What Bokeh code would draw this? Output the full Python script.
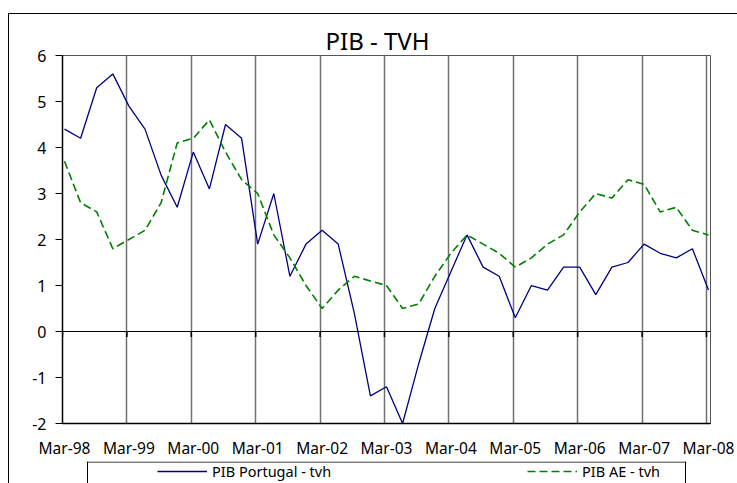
from bokeh.plotting import figure
from bokeh.layouts import column
from bokeh.models import Range1d, FixedTicker, Span, Legend, LegendItem
from bokeh.embed import file_html
from bokeh.resources import INLINE

# quarterly observations, Mar-98 .. Mar-08 (41 quarters)
pib_portugal = [4.4, 4.2, 5.3, 5.6, 4.9, 4.4, 3.4, 2.7, 3.9, 3.1, 4.5, 4.2, 1.9, 3.0, 1.2,
                1.9, 2.2, 1.9, 0.4, -1.4, -1.2, -2.0, -0.7, 0.5, 1.3, 2.1, 1.4, 1.2, 0.3,
                1.0, 0.9, 1.4, 1.4, 0.8, 1.4, 1.5, 1.9, 1.7, 1.6, 1.8, 0.9]
pib_ae = [3.7, 2.8, 2.6, 1.8, 2.0, 2.2, 2.8, 4.1, 4.2, 4.6, 3.9, 3.3, 3.0, 2.1, 1.6,
          1.0, 0.5, 0.9, 1.2, 1.1, 1.0, 0.5, 0.6, 1.2, 1.7, 2.1, 1.9, 1.7, 1.4,
          1.6, 1.9, 2.1, 2.6, 3.0, 2.9, 3.3, 3.2, 2.6, 2.7, 2.2, 2.1]
quarter_index = list(range(len(pib_portugal)))
tick_labels = ["Mar-98", "Mar-99", "Mar-00", "Mar-01", "Mar-02", "Mar-03",
               "Mar-04", "Mar-05", "Mar-06", "Mar-07", "Mar-08"]
y_ticks = [-2, -1, 0, 1, 2, 3, 4, 5, 6]
series_names = ["PIB Portugal - tvh", "PIB AE - tvh"]

FONT = "Noto Sans"
BLUE = "#000080"
GREEN = "#008000"
DASH = "8 4"

# ---------------- main chart ----------------
p = figure(width=728, height=447, output_backend="svg", toolbar_location=None,
           x_range=Range1d(-0.125, 40.125), y_range=Range1d(-2, 6),
           title="PIB - TVH")
p.frame_align = False
p.min_border = 0
p.min_border_left = 53
p.min_border_right = 27
p.min_border_top = 41
p.min_border_bottom = 38

p.background_fill_color = "white"
p.border_fill_color = "white"
p.outline_line_color = "#555555"
p.outline_line_width = 1

p.title.text_font = FONT
p.title.text_font_size = "24px"
p.title.text_font_style = "normal"
p.title.text_color = "black"
p.title.align = "left"
p.title.offset = 263
p.title.standoff = -2

tick_pos = [4 * k for k in range(len(tick_labels))]
p.xaxis.ticker = FixedTicker(ticks=tick_pos)
p.xaxis.major_label_overrides = {t: lab for t, lab in zip(tick_pos, tick_labels)}
p.xaxis.major_tick_out = 0
p.xaxis.major_tick_in = 0
p.xaxis.minor_tick_line_color = None
p.xaxis.major_label_standoff = 13
p.xaxis.major_label_text_font = FONT
p.xaxis.major_label_text_font_size = "15.5px"
p.xaxis.major_label_text_color = "black"
p.xaxis.axis_line_color = "black"
p.xaxis.axis_line_width = 1.5

p.yaxis.ticker = FixedTicker(ticks=y_ticks)
p.yaxis.major_label_overrides = {t: str(t) for t in y_ticks}
p.yaxis.major_tick_out = 7
p.yaxis.major_tick_in = 0
p.yaxis.major_tick_line_color = "black"
p.yaxis.minor_tick_line_color = None
p.yaxis.major_label_standoff = 9
p.yaxis.major_label_text_font = FONT
p.yaxis.major_label_text_font_size = "16px"
p.yaxis.major_label_text_color = "black"
p.yaxis.axis_line_color = "black"
p.yaxis.axis_line_width = 1.5

grid_pos = [4 * k - 0.125 for k in range(len(tick_labels))]
p.xgrid.ticker = FixedTicker(ticks=grid_pos)
p.xgrid.grid_line_color = "#707070"
p.xgrid.grid_line_width = 1.5
p.ygrid.visible = False

# category axis drawn through zero, with its small tick marks
p.add_layout(Span(location=0, dimension="width", line_color="black", line_width=1))
p.segment(x0=grid_pos, y0=[0] * len(grid_pos), x1=grid_pos, y1=[-0.12] * len(grid_pos),
          line_color="black", line_width=1.5)

p.line(quarter_index, pib_portugal, line_color=BLUE, line_width=1.3)
p.line(quarter_index, pib_ae, line_color=GREEN, line_width=1.6, line_dash=DASH)

# ---------------- legend strip ----------------
leg_fig = figure(width=728, height=22, output_backend="svg", toolbar_location=None,
                 x_range=Range1d(0, 600), y_range=Range1d(0, 22))
leg_fig.frame_align = False
leg_fig.min_border = 0
leg_fig.min_border_left = 77
leg_fig.min_border_right = 51
leg_fig.min_border_top = 0
leg_fig.min_border_bottom = 0
leg_fig.outline_line_color = None
leg_fig.xaxis.visible = False
leg_fig.yaxis.visible = False
leg_fig.xgrid.visible = False
leg_fig.ygrid.visible = False
leg_fig.background_fill_color = "white"
leg_fig.border_fill_color = "white"

for loc, dim in [(1, "height"), (599, "height"), (21.5, "width")]:
    leg_fig.add_layout(Span(location=loc, dimension=dim, line_color="black", line_width=1))

# legend proxies: the real series, mapped onto a y range that lies outside the strip
leg_fig.extra_y_ranges = {"off": Range1d(100, 200)}
k1 = leg_fig.line(quarter_index, pib_portugal, line_color=BLUE, line_width=1.3,
                  y_range_name="off")
k2 = leg_fig.line(quarter_index, pib_ae, line_color=GREEN, line_width=1.6,
                  line_dash=DASH, y_range_name="off")

leg = Legend(items=[LegendItem(label=series_names[0], renderers=[k1]),
                    LegendItem(label=series_names[1], renderers=[k2])],
             orientation="horizontal", location=(71, 2), padding=0, margin=0,
             spacing=0, glyph_width=50, glyph_height=20, label_height=20,
             label_width=315, label_standoff=5, border_line_alpha=0,
             background_fill_alpha=0, label_text_font=FONT,
             label_text_font_size="14.5px", label_text_color="black")
leg_fig.add_layout(leg)

layout = column(p, leg_fig, spacing=0,
                styles={"margin-left": "8px", "margin-top": "13px",
                        "border-left": "1px solid black", "border-top": "1px solid black"})

open("out.html", "w").write(file_html(layout, INLINE))
